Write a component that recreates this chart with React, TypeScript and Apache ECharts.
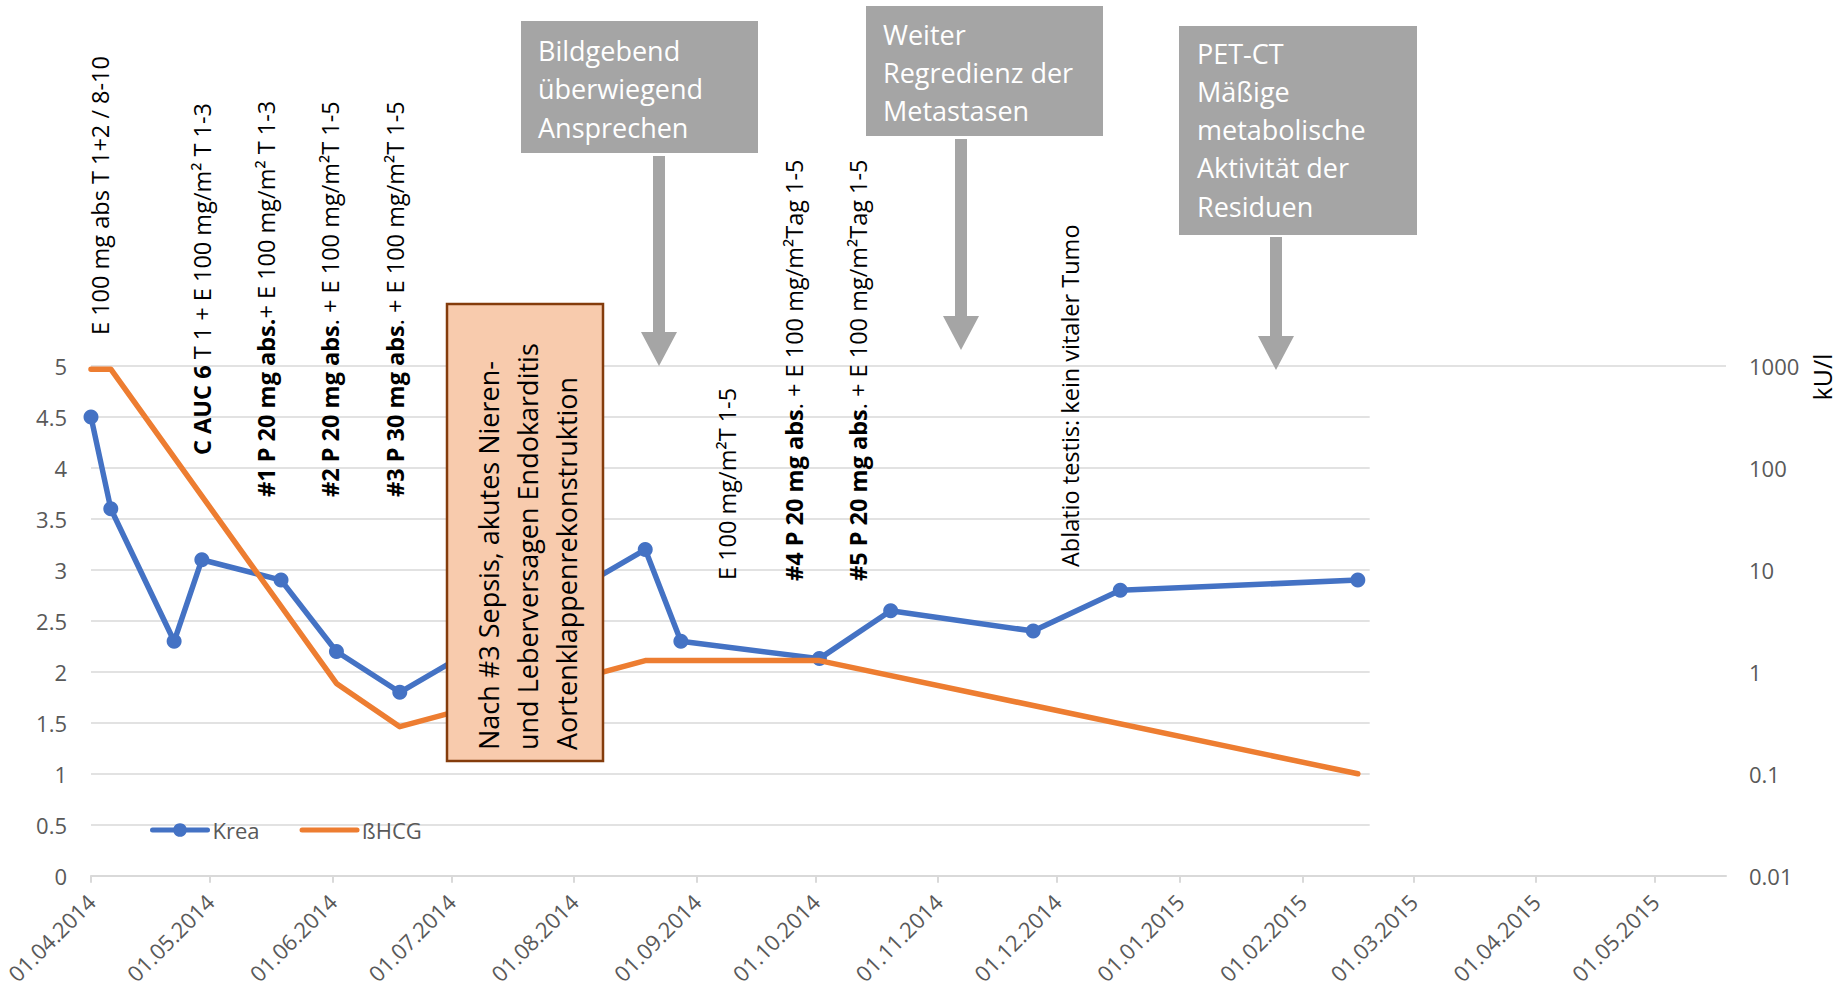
import React, { useEffect, useRef } from "react";
import * as echarts from "echarts";

// ---------- data ----------
const kreaDates = [
  "2014-04-01", "2014-04-06", "2014-04-22", "2014-04-29", "2014-05-19", "2014-06-02", "2014-06-18",
  "2014-08-19", "2014-08-28", "2014-10-02", "2014-10-20", "2014-11-25", "2014-12-17", "2015-02-15",
];
const kreaValues = [4.5, 3.6, 2.3, 3.1, 2.9, 2.2, 1.8, 3.2, 2.3, 2.13, 2.6, 2.4, 2.8, 2.9];

const hcgDates = ["2014-04-01", "2014-04-06", "2014-06-02", "2014-06-18", "2014-08-19", "2014-10-02", "2015-02-15"];
const hcgValues = [930, 930, 0.77, 0.29, 1.29, 1.29, 0.1];

const xTickDates = [
  "2014-04-01", "2014-05-01", "2014-06-01", "2014-07-01", "2014-08-01", "2014-09-01", "2014-10-01",
  "2014-11-01", "2014-12-01", "2015-01-01", "2015-02-01", "2015-03-01", "2015-04-01", "2015-05-01",
];
const xTickLabels = [
  "01.04.2014", "01.05.2014", "01.06.2014", "01.07.2014", "01.08.2014", "01.09.2014", "01.10.2014",
  "01.11.2014", "01.12.2014", "01.01.2015", "01.02.2015", "01.03.2015", "01.04.2015", "01.05.2015",
];
const xAxisStart = "2014-04-01";
const xAxisEnd = "2015-05-19";
const gridCutDate = "2015-02-18";
const leftGridValues = [0.5, 1, 1.5, 2, 2.5, 3, 3.5, 4, 4.5];
const leftTop = 5;
const rightTickLabels = ["0.01", "0.1", "1", "10", "100", "1000"];

const seriesNames = ["Krea", "ßHCG"];

const boxTexts = [
  "Bildgebend\nüberwiegend\nAnsprechen",
  "Weiter\nRegredienz der\nMetastasen",
  "PET-CT\nMäßige\nmetabolische\nAktivität der\nResiduen",
];
const eventText = "Nach #3 Sepsis, akutes Nieren-\nund Leberversagen Endokarditis\nAortenklappenrekonstruktion";
const therapyTexts = [
  "{n|E 100 mg abs T 1+2 / 8-10}",
  "{b|C AUC 6}{n| T 1 + E 100 mg/m² T 1-3}",
  "{b|#1 P 20 mg abs.}{n|+ E 100 mg/m² T 1-3}",
  "{b|#2 P 20 mg abs}{n|. + E 100 mg/m²T 1-5}",
  "{b|#3 P 30 mg abs}{n|. + E 100 mg/m²T 1-5}",
  "{n|E 100 mg/m²T 1-5}",
  "{b|#4 P 20 mg abs}{n|. + E 100 mg/m²Tag 1-5}",
  "{b|#5 P 20 mg abs}{n|. + E 100 mg/m²Tag 1-5}",
  "{n|Ablatio testis: kein vitaler Tumo}",
];

// ---------- helpers ----------
const ts = (s: string) => {
  const [y, m, d] = s.split("-").map(Number);
  return Date.UTC(y, m - 1, d);
};
const xTicks = xTickDates.map(ts);

const FONT = '"Open Sans", "Noto Sans", sans-serif';
const GREY = "#a5a5a5";
const BLUE = "#4472c4";
const ORANGE = "#ed7d31";

// annotation layout (pixels)
const boxLayout = [
  { x: 521, y: 21, w: 237, h: 132, tx: 538, ty: 31, lh: 38.5 },
  { x: 866, y: 6, w: 237, h: 130, tx: 883, ty: 15, lh: 38 },
  { x: 1179, y: 26, w: 238, h: 209, tx: 1197, ty: 34, lh: 38.25 },
];
const arrowLayout = [
  { cx: 659, top: 156, headTop: 332, tip: 366 },
  { cx: 961, top: 139, headTop: 316, tip: 350 },
  { cx: 1276, top: 237, headTop: 336, tip: 370 },
];
const therapyLayout = [
  { x: 100, y: 335 },
  { x: 202, y: 455 },
  { x: 266, y: 497 },
  { x: 330, y: 497 },
  { x: 395, y: 497 },
  { x: 727, y: 580 },
  { x: 794, y: 581 },
  { x: 858, y: 581 },
  { x: 1070, y: 567 },
];

function buildGraphics() {
  const els: any[] = [];
  boxLayout.forEach((b, i) => {
    els.push({
      type: "rect",
      z: 100,
      shape: { x: b.x, y: b.y, width: b.w, height: b.h },
      style: { fill: GREY },
    });
    els.push({
      type: "text",
      z: 101,
      x: b.tx,
      y: b.ty,
      style: {
        text: boxTexts[i],
        fill: "#ffffff",
        font: `27px ${FONT}`,
        lineHeight: b.lh,
        textAlign: "left",
        textVerticalAlign: "top",
        align: "left",
        verticalAlign: "top",
      },
    });
  });
  arrowLayout.forEach((a) => {
    const sw = 6;
    const hw = 18;
    els.push({
      type: "polygon",
      z: 100,
      shape: {
        points: [
          [a.cx - sw, a.top],
          [a.cx + sw, a.top],
          [a.cx + sw, a.headTop],
          [a.cx + hw, a.headTop],
          [a.cx, a.tip],
          [a.cx - hw, a.headTop],
          [a.cx - sw, a.headTop],
        ],
      },
      style: { fill: GREY },
    });
  });
  // orange event box
  els.push({
    type: "rect",
    z: 100,
    shape: { x: 447, y: 304, width: 156, height: 457 },
    style: { fill: "#f8cbad", stroke: "#843c0c", lineWidth: 2.5 },
  });
  els.push({
    type: "text",
    z: 101,
    x: 468.5,
    y: 750,
    rotation: Math.PI / 2,
    style: {
      text: eventText,
      fill: "#000000",
      font: `27px ${FONT}`,
      lineHeight: 39,
      textAlign: "left",
      textVerticalAlign: "top",
      align: "left",
      verticalAlign: "top",
    },
  });
  const rich = {
    n: { fontFamily: FONT, fontSize: 23.5, fontWeight: "normal", fill: "#000000" },
    b: { fontFamily: FONT, fontSize: 23.5, fontWeight: "bold", fill: "#000000" },
  };
  therapyLayout.forEach((p, i) => {
    els.push({
      type: "text",
      z: 102,
      x: p.x,
      y: p.y,
      rotation: Math.PI / 2,
      style: {
        text: therapyTexts[i],
        rich,
        fill: "#000000",
        fontFamily: FONT,
        fontSize: 23.5,
        textAlign: "left",
        textVerticalAlign: "middle",
        align: "left",
        verticalAlign: "middle",
      },
    });
  });
  // right axis unit
  els.push({
    type: "text",
    z: 102,
    x: 1822,
    y: 377,
    rotation: Math.PI / 2,
    style: {
      text: "kU/l",
      fill: "#000000",
      font: `25px ${FONT}`,
      textAlign: "center",
      textVerticalAlign: "middle",
      align: "center",
      verticalAlign: "middle",
    },
  });
  return els;
}

function buildOption() {
  const start = ts(xAxisStart);
  const end = ts(xAxisEnd);
  const cut = ts(gridCutDate);
  const gridLines: any[] = leftGridValues.map((v) => [{ coord: [start, v] }, { coord: [cut, v] }]);
  gridLines.push([{ coord: [start, leftTop] }, { coord: [end, leftTop] }]);

  return {
    animation: false,
    backgroundColor: "#ffffff",
    textStyle: { fontFamily: FONT },
    grid: { left: 91, right: 121, top: 366, bottom: 109, containLabel: false },
    legend: {
      data: [
        { name: seriesNames[0] },
        { name: seriesNames[1], itemStyle: { color: "rgba(0,0,0,0)", borderWidth: 0, opacity: 0 } },
      ],
      left: 145,
      top: 814,
      itemWidth: 55,
      itemHeight: 17,
      itemGap: 40,
      lineStyle: { width: 5 },
      textStyle: { color: "#595959", fontSize: 22, fontFamily: FONT },
    },
    xAxis: {
      type: "value",
      min: start,
      max: end,
      splitLine: { show: false },
      axisLine: { show: true, onZero: false, lineStyle: { color: "#d9d9d9", width: 2 } },
      axisTick: { show: true, customValues: xTicks, length: 7, lineStyle: { color: "#d9d9d9", width: 2 } },
      axisLabel: {
        customValues: xTicks,
        rotate: 45,
        margin: 22,
        color: "#595959",
        fontSize: 22,
        fontFamily: FONT,
        formatter: (v: number) => {
          let best = 0;
          for (let i = 1; i < xTicks.length; i++) {
            if (Math.abs(xTicks[i] - v) < Math.abs(xTicks[best] - v)) best = i;
          }
          return xTickLabels[best];
        },
      },
    },
    yAxis: [
      {
        type: "value",
        min: 0,
        max: 5,
        interval: 0.5,
        position: "left",
        axisLine: { show: false },
        axisTick: { show: false },
        splitLine: { show: false },
        axisLabel: { color: "#595959", fontSize: 22, fontFamily: FONT, margin: 24 },
      },
      {
        type: "log",
        logBase: 10,
        min: 0.01,
        max: 1000,
        position: "right",
        axisLine: { show: false },
        axisTick: { show: false },
        splitLine: { show: false },
        axisLabel: {
          color: "#595959",
          fontSize: 22,
          fontFamily: FONT,
          margin: 23,
          padding: [10, 0, 0, 0],
          formatter: (v: number) => rightTickLabels[Math.round(Math.log10(v)) + 2] ?? "",
        },
      },
    ],
    series: [
      {
        name: seriesNames[0],
        type: "line",
        yAxisIndex: 0,
        z: 3,
        data: kreaDates.map((d, i) => [ts(d), kreaValues[i]]),
        symbol: "circle",
        symbolSize: 15,
        showAllSymbol: true,
        lineStyle: { color: BLUE, width: 5.5, join: "round", cap: "round" },
        itemStyle: { color: BLUE },
        markLine: {
          silent: true,
          z: 1,
          symbol: ["none", "none"],
          label: { show: false },
          lineStyle: { color: "#d9d9d9", width: 1.5, type: "solid" },
          emphasis: { disabled: true },
          data: gridLines,
        },
      },
      {
        name: seriesNames[1],
        type: "line",
        yAxisIndex: 1,
        z: 4,
        data: hcgDates.map((d, i) => [ts(d), hcgValues[i]]),
        symbol: "none",
        lineStyle: { color: ORANGE, width: 5.5, join: "round", cap: "round" },
        itemStyle: { color: ORANGE },
      },
    ],
    graphic: buildGraphics(),
  };
}

export default function App() {
  const ref = useRef<HTMLDivElement>(null);
  useEffect(() => {
    if (!ref.current) return;
    const chart = echarts.init(ref.current, null, { renderer: "svg" });
    chart.setOption(buildOption() as any);
    return () => chart.dispose();
  }, []);
  return (
    <div
      ref={ref}
      style={{ position: "absolute", left: 0, top: 0, width: 1847, height: 987, background: "#fff" }}
    />
  );
}
